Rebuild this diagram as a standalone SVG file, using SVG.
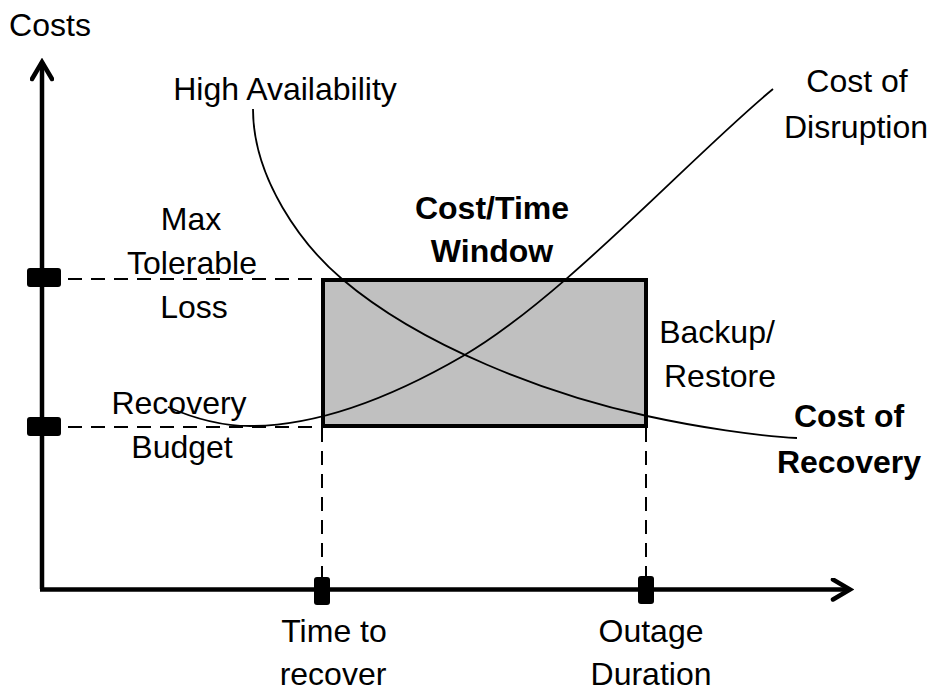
<svg xmlns="http://www.w3.org/2000/svg" width="943" height="693" viewBox="0 0 943 693">
  <style>
    .lbl { font-family: "Liberation Sans", Arial, sans-serif; font-size: 32px; fill: #000; text-anchor: middle; }
    .bold { font-weight: bold; }
    .axis { stroke: #000; stroke-width: 4.5; fill: none; }
    .guide { stroke: #000; stroke-width: 2; fill: none; stroke-dasharray: 14 9; }
    .curve { stroke: #000; stroke-width: 1.8; fill: none; }
    .tick { fill: #000; }
  </style>
  <defs>
    <marker id="chevron" viewBox="0 0 24 24" refX="20" refY="12" markerWidth="24" markerHeight="24" markerUnits="userSpaceOnUse" orient="auto">
      <path d="M 3 2 L 20 12 L 3 22" fill="none" stroke="#000" stroke-width="4.5" stroke-linecap="round" stroke-linejoin="miter"/>
    </marker>
  </defs>

  <rect width="943" height="693" fill="#fff"/>

  <!-- cost / time window -->
  <g id="window">
    <rect x="323" y="280" width="323" height="146" fill="#c0c0c0" stroke="#000" stroke-width="4"/>
  </g>

  <g id="connectors">
    <!-- guide lines from axis ticks to the window -->
    <line class="guide" x1="68" y1="279" x2="321" y2="279"/>
    <line class="guide" x1="68" y1="427" x2="321" y2="427"/>
    <line class="guide" x1="322" y1="428" x2="322" y2="578"/>
    <line class="guide" x1="646" y1="428" x2="646" y2="578"/>

    <!-- cost of recovery curve -->
    <path id="recovery-curve" class="curve" d="M 253 109 C 253 179 302 245 342 279 C 422 347 547 394 647 416 C 697 427 757 436 797 438"/>

    <!-- cost of disruption curve -->
    <path id="disruption-curve" class="curve" d="M 168 407 C 195 419 225 426 250 426 C 330 426 413 385 463 356 C 563 298 693 154.6 773 89"/>
  </g>

  <!-- axes -->
  <g id="axes">
    <line class="axis" x1="42" y1="589" x2="42" y2="62" marker-end="url(#chevron)"/>
    <line class="axis" x1="40" y1="589.5" x2="850" y2="589.5" marker-end="url(#chevron)"/>
  </g>

  <!-- axis ticks -->
  <g id="tick-max-loss"><rect class="tick" x="27" y="268" width="34" height="19" rx="3"/></g>
  <g id="tick-budget"><rect class="tick" x="27" y="417" width="34" height="19" rx="3"/></g>
  <g id="tick-time"><rect class="tick" x="314" y="577" width="16" height="28" rx="3"/></g>
  <g id="tick-outage"><rect class="tick" x="638" y="576" width="16" height="28" rx="3"/></g>

  <!-- labels -->
  <g id="label-costs"><text class="lbl" x="50" y="36" font-size="31">Costs</text></g>
  <g id="label-high-availability"><text class="lbl" x="285" y="100" font-size="34">High Availability</text></g>
  <g id="label-disruption">
    <text class="lbl" x="857" y="92" font-size="35">Cost of</text>
    <text class="lbl" x="856" y="138" font-size="35">Disruption</text>
  </g>
  <g id="label-max-loss">
    <text class="lbl" x="191" y="230">Max</text>
    <text class="lbl" x="192" y="274">Tolerable</text>
    <text class="lbl" x="194" y="318">Loss</text>
  </g>
  <g id="label-budget">
    <text class="lbl" x="179" y="414">Recovery</text>
    <text class="lbl" x="182" y="458">Budget</text>
  </g>
  <g id="label-window">
    <text class="lbl bold" x="492" y="219">Cost/Time</text>
    <text class="lbl bold" x="492" y="262">Window</text>
  </g>
  <g id="label-backup">
    <text class="lbl" x="717" y="343">Backup/</text>
    <text class="lbl" x="720" y="387">Restore</text>
  </g>
  <g id="label-recovery">
    <text class="lbl bold" x="849" y="427">Cost of</text>
    <text class="lbl bold" x="849" y="473">Recovery</text>
  </g>
  <g id="label-time">
    <text class="lbl" x="334" y="642">Time to</text>
    <text class="lbl" x="333" y="685">recover</text>
  </g>
  <g id="label-outage">
    <text class="lbl" x="651" y="642">Outage</text>
    <text class="lbl" x="651" y="685">Duration</text>
  </g>
</svg>
